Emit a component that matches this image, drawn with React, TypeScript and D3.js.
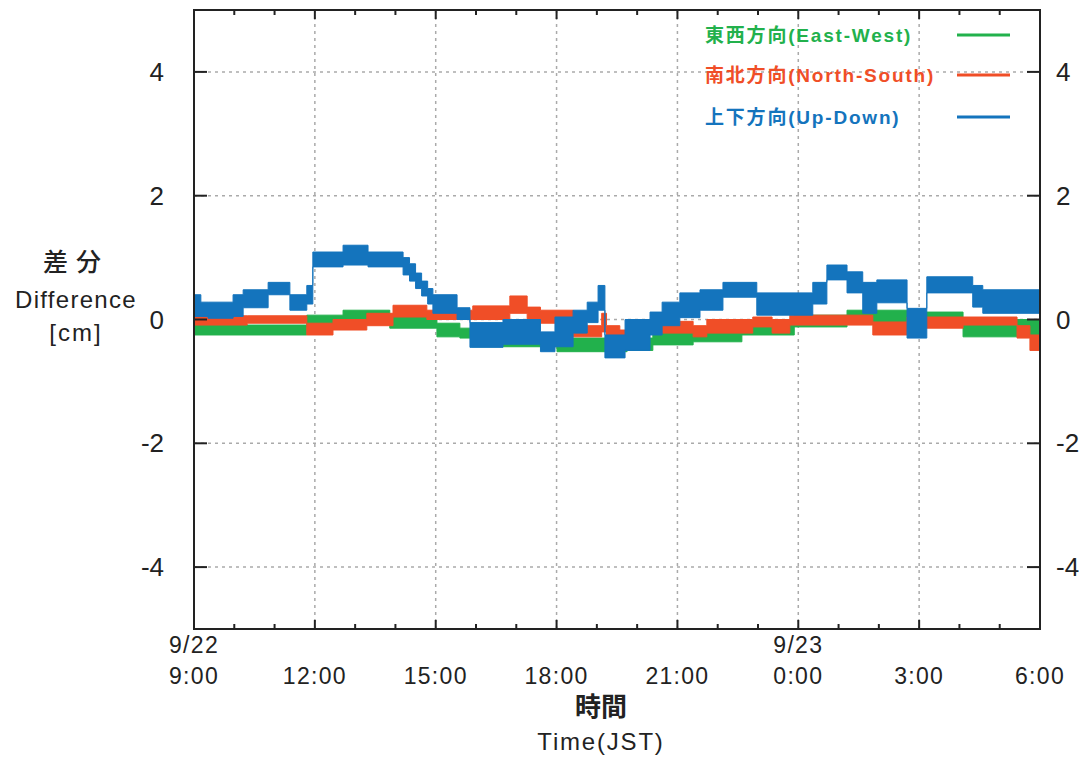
import React from "react";
import * as d3 from "d3";

const W = 1079;
const H = 758;
const PL = 194, PR = 1040, PT = 10, PB = 629;

// hours since 9/22 9:00
const xMajor = [0, 3, 6, 9, 12, 15, 18, 21];
const xMajorLabels = ["9:00", "12:00", "15:00", "18:00", "21:00", "0:00", "3:00", "6:00"];
const dateHours = [0, 15];
const dateLabels = ["9/22", "9/23"];
const yTicks = [-4, -2, 0, 2, 4];

const ewT = [0, 2.8, 3.7, 4.86, 6.03, 6.6, 6.9, 9.01, 10.75, 11.39, 12.39, 13.6, 14.9, 16.21, 17.77, 19.09, 21];
const ewLo = [-0.25, -0.12, -0.06, -0.14, -0.28, -0.3, -0.44, -0.52, -0.5, -0.41, -0.36, -0.25, -0.12, -0.04, -0.09, -0.28, -0.28];
const ewHi = [-0.09, 0.07, 0.15, 0.04, -0.06, -0.14, -0.25, -0.3, -0.3, -0.2, -0.14, -0.06, 0.07, 0.15, 0.12, 0.0, 0.0];

const nsT = [0, 1.32, 2.8, 3.45, 4.29, 4.94, 5.78, 6.92, 7.84, 8.27, 8.6, 9.41, 10.12, 10.24, 10.57, 10.95, 11.39, 12.39, 12.73, 13.87, 14.35, 14.79, 16.85, 17.7, 19.09, 20.43, 20.75, 21];
const nsLo = [-0.09, -0.06, -0.25, -0.17, -0.1, 0.04, 0.0, 0.0, 0.1, -0.06, -0.06, -0.28, -0.2, -0.3, -0.33, -0.1, -0.22, -0.28, -0.22, -0.12, -0.22, -0.09, -0.25, -0.14, -0.09, -0.3, -0.5, -0.5];
const nsHi = [0.06, 0.06, -0.06, 0.0, 0.1, 0.23, 0.15, 0.22, 0.38, 0.2, 0.15, -0.1, 0.1, -0.1, -0.17, 0.0, -0.03, -0.1, 0.0, 0.04, 0.0, 0.07, -0.04, 0.04, 0.04, -0.1, -0.25, -0.25];

const udT = [0, 0.17, 0.35, 0.97, 1.22, 1.84, 2.38, 2.8, 2.95, 3.7, 4.32, 5.19, 5.35, 5.5, 5.65, 5.8, 5.93, 6.53, 6.85, 7.67, 8.6, 8.96, 9.41, 9.76, 10.03, 10.2, 10.7, 11.32, 11.62, 12.06, 12.56, 13.13, 13.97, 15.36, 15.71, 16.21, 16.6, 16.95, 17.7, 18.19, 19.33, 19.58, 21];
const udLo = [0.05, 0.05, 0.02, 0.05, 0.19, 0.4, 0.15, 0.25, 0.85, 0.88, 0.85, 0.72, 0.62, 0.5, 0.38, 0.25, 0.1, 0.0, -0.45, -0.4, -0.52, -0.44, -0.22, -0.05, 0.15, -0.62, -0.5, -0.25, -0.1, 0.03, 0.15, 0.36, 0.07, 0.25, 0.64, 0.43, 0.1, 0.27, -0.3, 0.43, 0.2, 0.1, 0.1];
const udHi = [0.4, 0.28, 0.28, 0.4, 0.48, 0.6, 0.4, 0.55, 1.09, 1.2, 1.09, 1.0, 0.9, 0.75, 0.62, 0.5, 0.4, 0.19, -0.05, 0.0, -0.2, 0.04, 0.15, 0.28, 0.55, -0.25, 0.0, 0.12, 0.28, 0.43, 0.48, 0.6, 0.43, 0.6, 0.88, 0.77, 0.6, 0.64, 0.18, 0.69, 0.55, 0.48, 0.48];

const GREEN = "#22b14c";
const RED = "#f04e27";
const BLUE = "#1474bd";

const seriesNames = ["東西方向(East-West)", "南北方向(North-South)", "上下方向(Up-Down)"];
const seriesColors = [GREEN, RED, BLUE];

const FONT = "'Liberation Sans', Arial, sans-serif";
const LEGEND_FONT = "'Liberation Sans', 'Noto Sans CJK JP', sans-serif";
const CJK = "'Noto Sans CJK JP', 'Liberation Sans', sans-serif";

export default function App() {
  const x = d3.scaleLinear().domain([0, 21]).range([PL, PR]);
  const y = d3.scaleLinear().domain([-5, 5]).range([PB, PT]);

  const band = (t: number[], lo: number[], hi: number[]) => {
    const rows = t.map((tt, i) => ({ t: tt, lo: lo[i], hi: hi[i] }));
    return d3
      .area<{ t: number; lo: number; hi: number }>()
      .x((d) => x(d.t))
      .y0((d) => y(d.lo))
      .y1((d) => y(d.hi))
      .curve(d3.curveStepAfter)(rows) as string;
  };

  const minor = d3.range(0, 22);

  return (
    <svg
      width={W}
      height={H}
      style={{ position: "absolute", left: 0, top: 0, background: "#fff" }}
    >
      <rect width={W} height={H} fill="#fff" />
      {/* grid */}
      {yTicks.map((v) => (
        <line key={"gy" + v} x1={PL} x2={PR} y1={y(v)} y2={y(v)} stroke="#aaa" strokeWidth={1.5} strokeDasharray="3,4" />
      ))}
      {xMajor.slice(1, -1).map((h) => (
        <line key={"gx" + h} x1={x(h)} x2={x(h)} y1={PT} y2={PB} stroke="#aaa" strokeWidth={1.5} strokeDasharray="3,4" />
      ))}

      {/* data */}
      <path d={band(ewT, ewLo, ewHi)} fill={GREEN} stroke={GREEN} strokeWidth={1} />
      <path d={band(nsT, nsLo, nsHi)} fill={RED} stroke={RED} strokeWidth={1} />
      <path d={band(udT, udLo, udHi)} fill={BLUE} stroke={BLUE} strokeWidth={1} />

      {/* ticks */}
      {minor.map((h) => {
        const major = h % 3 === 0;
        return (
          <g key={"t" + h}>
            <line x1={x(h)} x2={x(h)} y1={PB} y2={PB - (major ? 9 : 5)} stroke="#222" strokeWidth={2} />
            <line x1={x(h)} x2={x(h)} y1={PT} y2={PT + (major ? 9 : 5)} stroke="#222" strokeWidth={2} />
          </g>
        );
      })}
      {yTicks.map((v) => (
        <g key={"yt" + v}>
          <line x1={PL} x2={PL + 13} y1={y(v)} y2={y(v)} stroke="#222" strokeWidth={2} />
          <line x1={PR} x2={PR - 13} y1={y(v)} y2={y(v)} stroke="#222" strokeWidth={2} />
        </g>
      ))}

      {/* frame */}
      <rect x={PL} y={PT} width={PR - PL} height={PB - PT} fill="none" stroke="#222" strokeWidth={2} />

      {/* y labels */}
      {yTicks.map((v) => (
        <g key={"yl" + v} fontFamily={FONT} fontSize={26} fill="#222">
          <text x={164} y={y(v) + 9} textAnchor="end">{v}</text>
          <text x={1056} y={y(v) + 9} textAnchor="start">{v}</text>
        </g>
      ))}

      {/* x labels */}
      {xMajor.map((h, i) => (
        <text key={"xl" + h} x={x(h)} y={684} textAnchor="middle" fontFamily={FONT} fontSize={23} letterSpacing={1.3} fill="#222">
          {xMajorLabels[i]}
        </text>
      ))}
      {dateHours.map((h, i) => (
        <text key={"dl" + h} x={x(h)} y={653} textAnchor="middle" fontFamily={FONT} fontSize={23} letterSpacing={1.3} fill="#222">
          {dateLabels[i]}
        </text>
      ))}

      {/* axis titles */}
      <text x={76} y={271} textAnchor="middle" fontFamily={CJK} fontSize={25} fontWeight={500} letterSpacing={8} fill="#222">差分</text>
      <text x={76} y={308} textAnchor="middle" fontFamily={FONT} fontSize={24} letterSpacing={1.3} fill="#222">Difference</text>
      <text x={76} y={341} textAnchor="middle" fontFamily={FONT} fontSize={24} letterSpacing={2} fill="#222">[cm]</text>
      <text x={601} y={716} textAnchor="middle" fontFamily={CJK} fontSize={26} fontWeight={700} fill="#222">時間</text>
      <text x={601} y={750} textAnchor="middle" fontFamily={FONT} fontSize={24} letterSpacing={1.8} fill="#222">Time(JST)</text>

      {/* legend */}
      {seriesNames.map((n, i) => {
        const ly = [35, 75, 117][i];
        return (
          <g key={"lg" + i}>
            <text x={705} y={ly + 7} fontFamily={LEGEND_FONT} fontSize={19} fontWeight={700} letterSpacing={1.8} fill={seriesColors[i]}>
              {n}
            </text>
            <line x1={957} x2={1010} y1={ly} y2={ly} stroke={seriesColors[i]} strokeWidth={3} />
          </g>
        );
      })}
    </svg>
  );
}
